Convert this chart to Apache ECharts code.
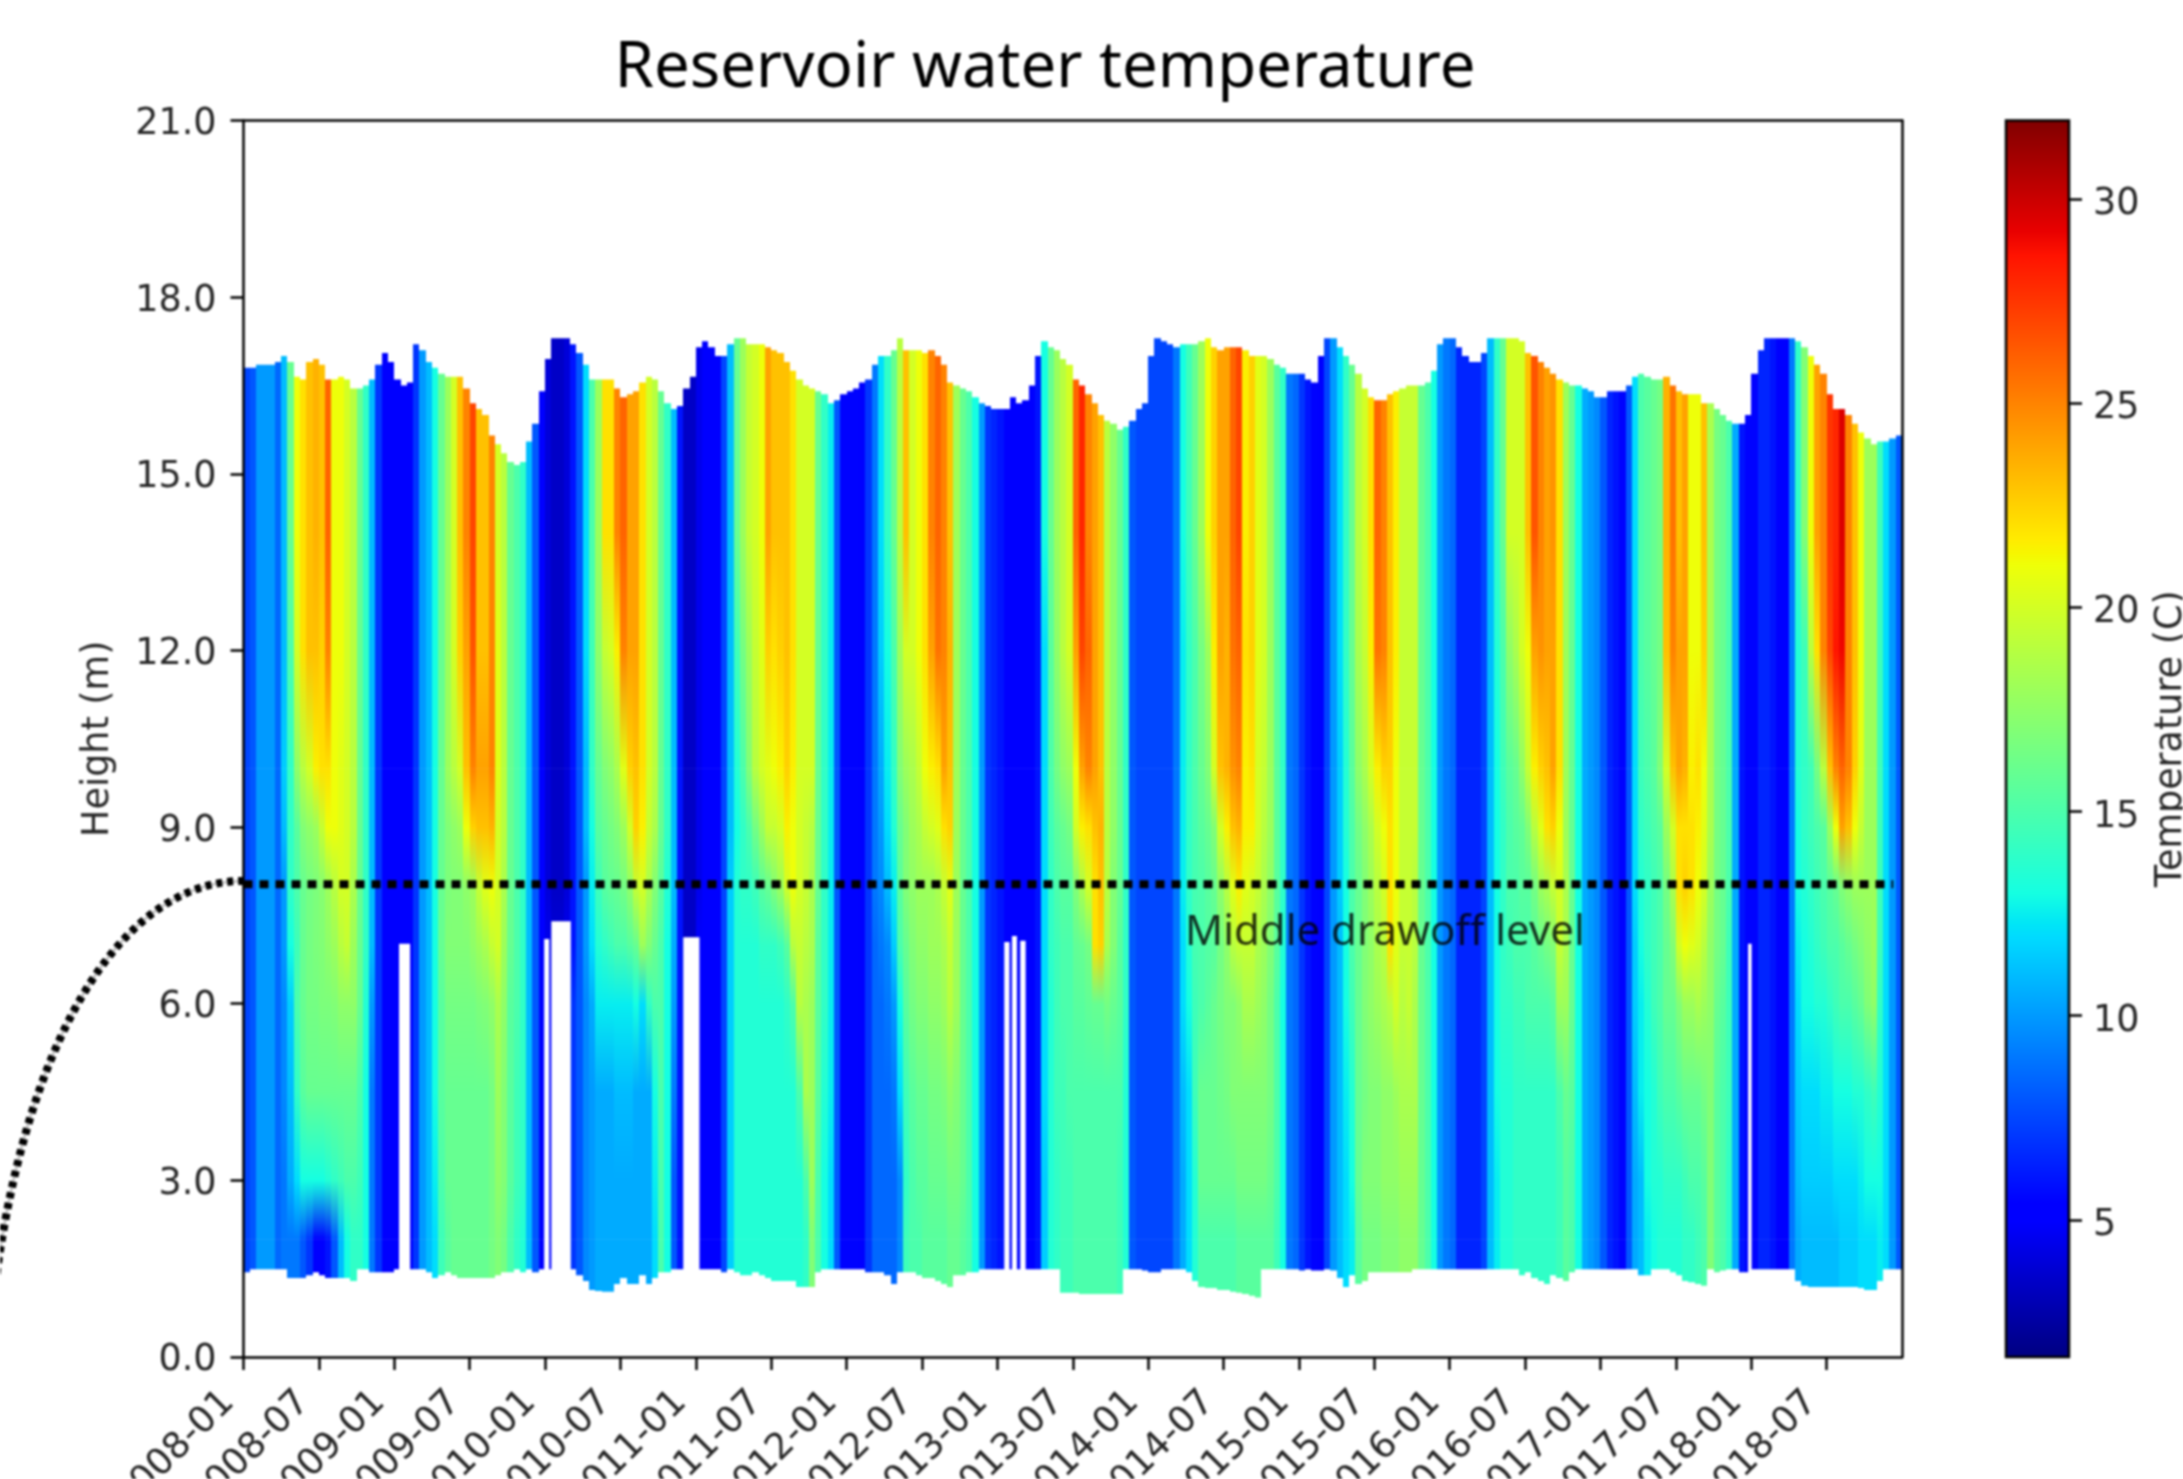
<!DOCTYPE html>
<html><head><meta charset="utf-8">
<style>html,body{margin:0;padding:0;background:#fff;overflow:hidden}#c{width:2183px;height:1479px}#c canvas{filter:blur(0.8px)}</style>
<script src="https://cdn.jsdelivr.net/npm/echarts@6/dist/echarts.min.js"></script>
</head><body><div id="c"></div>
<script>
const tickLabels=['2008-01','2008-07','2009-01','2009-07','2010-01','2010-07','2011-01','2011-07','2012-01','2012-07','2013-01','2013-07','2014-01','2014-07','2015-01','2015-07','2016-01','2016-07','2017-01','2017-07','2018-01','2018-07'];
const tickMonths=[0,6,12,18,24,30,36,42,48,54,60,66,72,78,84,90,96,102,108,114,120,126];
const heights=[14,12,10,9,8,7,6,4.5,3,2];
const colorbarTicks=[5,10,15,20,25,30];
// one value per half month, one line per year
const surface=[
16.8,16.8,16.85,16.85,16.85,16.9,17,16.9,16.65,16.6,16.9,16.95,16.85,16.6,16.6,16.65,16.6,16.45,16.45,16.5,16.6,16.85,17.05,16.9,
16.6,16.5,16.55,17.2,17.1,16.9,16.8,16.7,16.65,16.65,16.65,16.45,16.2,16.1,16,15.65,15.5,15.35,15.2,15.15,15.2,15.55,15.85,16.4,
16.95,17.3,17.3,17.3,17.2,17.05,16.85,16.6,16.6,16.6,16.6,16.45,16.3,16.35,16.4,16.55,16.65,16.6,16.4,16.2,16.1,16.15,16.45,16.65,
17.15,17.25,17.15,17,17,17.2,17.3,17.3,17.2,17.2,17.2,17.15,17.1,17.05,16.9,16.75,16.6,16.5,16.45,16.4,16.35,16.2,16.25,16.35,
16.4,16.45,16.55,16.6,16.85,17,17,17.1,17.3,17.1,17.1,17.1,17.05,17.1,17,16.85,16.55,16.5,16.45,16.4,16.3,16.2,16.15,16.1,
16.1,16.1,16.3,16.2,16.25,16.5,17,17.25,17.15,17.1,16.95,16.85,16.6,16.5,16.35,16.2,16,15.9,15.85,15.75,15.8,15.9,16.1,16.2,
17,17.3,17.25,17.2,17.15,17.2,17.2,17.2,17.25,17.3,17.15,17.1,17.15,17.15,17.15,17.1,17,17,17,16.95,16.85,16.8,16.7,16.7,
16.7,16.6,16.55,17,17.3,17.3,17.15,17,16.85,16.7,16.45,16.3,16.25,16.25,16.35,16.4,16.45,16.5,16.5,16.5,16.55,16.75,17.2,17.3,
17.3,17.15,17,16.9,16.9,17.05,17.3,17.3,17.3,17.3,17.3,17.25,17.05,17,16.9,16.8,16.7,16.6,16.55,16.5,16.5,16.45,16.4,16.3,
16.3,16.4,16.4,16.4,16.5,16.65,16.7,16.65,16.6,16.6,16.65,16.5,16.4,16.35,16.35,16.35,16.2,16.2,16.1,16,15.9,15.85,15.85,16,
16.7,17.1,17.3,17.3,17.3,17.3,17.3,17.25,17.15,17,16.85,16.7,16.35,16.1,16.1,16,15.85,15.7,15.6,15.5,15.55,15.55,15.6,15.65];
const bottom=[
1.45,1.5,1.5,1.5,1.5,1.5,1.5,1.35,1.35,1.35,1.4,1.45,1.4,1.35,1.35,1.35,1.35,1.3,1.5,1.5,1.45,1.45,1.45,1.45,
1.5,1.5,1.5,1.5,1.5,1.45,1.35,1.4,1.45,1.4,1.35,1.35,1.35,1.35,1.35,1.35,1.4,1.45,1.45,1.5,1.45,1.5,1.45,1.5,
1.5,1.5,1.5,1.5,1.5,1.4,1.3,1.15,1.13,1.12,1.12,1.25,1.35,1.25,1.25,1.4,1.25,1.35,1.45,1.45,1.5,1.5,1.5,1.5,
1.5,1.5,1.5,1.5,1.45,1.5,1.45,1.4,1.4,1.45,1.4,1.35,1.3,1.3,1.3,1.3,1.2,1.2,1.2,1.45,1.5,1.5,1.5,1.5,
1.5,1.5,1.5,1.45,1.45,1.45,1.4,1.25,1.45,1.45,1.45,1.4,1.35,1.35,1.3,1.25,1.2,1.4,1.4,1.45,1.45,1.5,1.5,1.5,
1.5,1.5,1.5,1.5,1.5,1.5,1.5,1.5,1.5,1.5,1.1,1.1,1.1,1.08,1.08,1.08,1.08,1.08,1.08,1.08,1.5,1.5,1.5,1.48,
1.45,1.45,1.5,1.5,1.5,1.5,1.45,1.3,1.2,1.18,1.18,1.15,1.15,1.12,1.1,1.08,1.05,1.02,1.5,1.5,1.5,1.5,1.5,1.5,
1.48,1.5,1.48,1.48,1.5,1.48,1.35,1.2,1.4,1.25,1.3,1.45,1.45,1.45,1.45,1.45,1.45,1.45,1.5,1.5,1.5,1.5,1.5,1.5,
1.5,1.5,1.5,1.5,1.5,1.5,1.5,1.5,1.5,1.5,1.5,1.4,1.45,1.35,1.3,1.25,1.4,1.35,1.3,1.45,1.5,1.5,1.5,1.5,
1.5,1.5,1.5,1.5,1.5,1.5,1.4,1.4,1.5,1.5,1.5,1.45,1.4,1.3,1.28,1.25,1.22,1.5,1.45,1.48,1.5,1.5,1.45,1.45,
1.5,1.5,1.5,1.5,1.5,1.5,1.5,1.3,1.22,1.2,1.2,1.2,1.2,1.2,1.2,1.2,1.2,1.18,1.15,1.15,1.3,1.5,1.5,1.5];
const T14=[
7.5,8,10,10,10,8.5,11,16,21,22,23,23.5,23,26,21,21,20,19,16,14,11,7,5,5,
5,5,5,7,10,11,13,16,18,20,23,25,27,23,23,25,20,19,16,15,14,11,8,5,
4,3.5,3.5,4,6,8,12,15,18,22,22,25,26,24,24,22,20,19,16,14,11,6,3.5,3.5,
4.5,5,5,5,7.5,11,16,18,19.5,20,21,24,23,23,23,22,20,20,20,16,14,12.5,8,5.5,
5.5,5.5,5,7,9,12,14,16,19,23,20,21,22,25,26,25,23,18,16,15,13,10,7,6.5,
6,5,5,5,5,5,6,13,16,18,19,20,26,28,25,24,23,19,17.5,16,14,8,7.5,7.5,
7.5,7.5,7.5,7.5,9,13,14.5,16,18,21,22.5,24,24,26,27,21.5,22.5,20.5,20,18,15.5,14,9,8.5,
7,6,5.5,5,7.5,10,12,14,16,19,20,22,26,25,23,21.5,19.5,19.5,19.5,16,15,13,10,9,
8.5,6.5,6.5,6.5,6.5,7.5,11,14,16,20,20,20,23,26.5,25,24,24.5,22,18,16,13,10.5,10,9.5,
8,6.5,6,5.5,8,12,15,15.5,16,16.5,23.5,25.5,23,24,21,21,23,18.5,16.5,16,15,10.5,6,5.5,
5.5,6.5,6.5,6,5,5,9,14,17,21,24,25,27.5,28,29.5,25,23,21,18,18,14.5,12,10,8];
const T12=[
7.5,8,10,10,10,8.5,11,15,20,22,23,23,22.5,25,21,21,20,19,16,14,11,7,5,5,
5,5,5,7,10,11,13,16,18,20,22.5,24,26.5,23,23,25,20.5,19,16,15,14,11,8,5,
4,3.5,3.5,4,6,8,12,14.5,17.5,19.5,20,21.5,25,24,24,22,20,19,16,14,11,6,3.5,3.5,
4.5,5,5,5,7.5,11,14.5,16.5,18,19.5,20.5,22.5,22,22.5,23,22,20,20,20,16,14,12.5,8,5.5,
5.5,5.5,5,7,9,11.5,13,15,18,20,20,21,22,24,25.5,25,23.5,18,16,15,13,10,7,6.5,
6,5,5,5,5,5,6,12,15.5,17.5,19,20,24,27,26,24,23,19,17.5,16,14,8,7.5,7.5,
7.5,7.5,7.5,7.5,9,12.5,14,15,16.5,18,21.5,24,23.5,25.5,26,22,22.5,20.5,20,18,15.5,14,9,8.5,
7,6,5.5,5,7.5,10,12,14,16,18.5,19.5,21.5,25.5,25,23,21.5,19.5,19.5,19.5,16,15,13,10,9,
8.5,6.5,6.5,6.5,6.5,7.5,11,13.5,15,17.5,18.5,20,21,24,24.5,24,24,22,18,16,13,10.5,10,9.5,
8,6.5,6,5.5,8,12,15,15.5,16,16.5,23,25,24,24,21,21,22.5,18.5,16.5,16,15,10.5,6,5.5,
5.5,6.5,6.5,6,5,5,9,13.5,14.5,19,22,25,27,28.5,29,25,23,21,18,18,14.5,12,10,8];
const T10=[
7.5,8,10,10,10,8.5,11.5,14,17.5,19,20,21.5,22,22,21,20.5,20,19,16,14,11,7,5,5,
5,5,5,7,10,11,13,16,18,19,20,23,25,24,24,25,20.5,19,16,15,14,11,8,5,
4,3.5,3.5,4,6,8,11,14,16,17,17.5,18.5,20.5,22.5,23,22,20,19,16,14,11,6,3.5,3.5,
4.5,5,5,5,7.5,11,13.5,15,17,19,20,20.5,21,21.5,22.5,21.5,20,20,20,16,14,12.5,8,5.5,
5.5,5.5,5,7,9,10.5,12.5,14,17,18,18.5,19.5,21,21.5,22,24,23,18,16,15,13,10,7,6.5,
6,5,5,5,5,5,6,12,15,16.5,17.5,18,21,24,25,24,23,19,17.5,16,14,8,7.5,7.5,
7.5,7.5,7.5,7.5,9,12.5,14,15,16,17,20,23,23.5,24.5,25,21.5,22,20,19.5,18,15.5,14,9,8.5,
7,6,5.5,5,7.5,10,11.5,13.5,15.5,17.5,18.5,20,21.5,22.5,22.5,21,19.5,19.5,19.5,16,15,13,10,9,
8.5,6.5,6.5,6.5,6.5,7.5,11,13,14.5,15.5,16,17.5,19.5,21.5,22.5,23,24,22,18,16,13,10.5,10,9.5,
8,6.5,6,5.5,8,12,14.5,15,15.5,17,20,23,24,23.5,21.5,22,21,18.5,16.5,16,15,10.5,6,5.5,
5.5,6.5,6.5,6,5,5,9,13.5,14,14.5,16.5,19,23,25,26,25,22.5,20.5,18,18,14.5,12,10,8];
const T9=[
7.5,8,10,10,10,8.5,11,14,15.5,17,17.5,18,19.5,21,21,20.5,20,19,16,14,11,7,5,5,
5,5,5,7,10,11,13,16,17,17.5,18,21,22.5,23,23,23.5,20,19,16,15,14,11,8,5,
4,3.5,3.5,4,6,8,11,13,15.5,16,16.5,17,18,20,22.5,21.5,19.5,18.5,16,14,11,6,3.5,3.5,
4.5,5,5,5,7.5,11,13,14,15,16.5,18,19.5,19.5,20,21.5,21,20,19.5,19,16,14,12.5,8,5.5,
5.5,5.5,5,7,9,10,12,13.5,16,17,18,18.5,19.5,20,20.5,22,22.5,18,16,15,13,10,7,6.5,
6,5,5,5,5,5,6,12,14.5,15.5,16,16.5,20,21.5,22,23,23.5,19,17.5,16,14,8,7.5,7.5,
7.5,7.5,7.5,7.5,9,12.5,14,14.8,15.5,16,17,20,21.5,23,23.5,21.5,21.5,20,19,18,15.5,14,9,8.5,
7,6,5.5,5,7.5,10,11.5,13.5,15,16.5,17.5,18.5,20,21,22,21,19.5,19.5,19.5,16,15,13,10,9,
8.5,6.5,6.5,6.5,6.5,7.5,11,13,14,15,15.5,15.8,17,19,20.5,22,22.5,21,18,16,13,10.5,10,9.5,
8,6.5,6,5.5,8,12,14,14.5,15,15.5,18,20,22,22,22,21.5,20.5,18.5,16.5,16,15,10.5,6,5.5,
5.5,6.5,6.5,6,5,5,9,13,14,14.5,15,15.5,18,21,24,23,21,19.5,18,18,14.5,12,10,8];
const T8=[
7.5,8,10,10,10,8.5,10,14,15,16,16.5,16.8,17.2,18,19,20,20,18.5,16,14,11,7,5,5,
5,5,5,7,10,11,13,16,16.8,17,17,17.5,18,19.5,20.5,21,20,18.5,16,15,14,11,8,5,
4,3.5,3.5,4,6,8,10,12.5,14.5,15.5,15.8,16,16.5,17.5,19.5,20,18.5,17,15.5,13.5,11,6,3.5,3.5,
4.5,5,5,5,7.5,11.5,13.5,14,14,14.5,15.5,16,17,18,20,21,20,19.5,18.5,16,14,12.5,8,5.5,
5.5,5.5,5,7,9,9.5,11,12.5,15.5,17,17.5,18,18,18,18.5,19.5,20.5,18,16,15,13,10,7,6.5,
6,5,5,5,5,5,6,12,14,15,15.5,15.5,17,18.5,20,22,23,19,17,16,14,8,7.5,7.5,
7.5,7.5,7.5,7.5,9,12.5,14,14.8,15,15.5,16,17.5,19,20.5,21.5,20.5,20,19.5,18.5,17.5,15.5,14,9,8.5,
7,6,5.5,5,7.5,10,11.5,13,15,16,17,18,19,20,22,21,19.5,19.5,19,16,15,13,10,9,
8.5,6.5,6.5,6.5,6.5,7.5,11,13,14,15,15,15.5,15.5,16.5,18,18.5,19.5,20,18.5,16,13,10.5,10,9.5,
8,6.5,6,5.5,8,12,13.5,14,14.5,15,16.5,18.5,22,22.5,22,21,20,18,16.5,16,15,10.5,6,5.5,
5.5,6.5,6.5,6,5,5,9,13,13.5,14,14.5,15,15.5,16,17,17.5,18,18,18,18,14.5,12,10,8];
const T7=[
7.5,8,10,10,10,8.5,10,13,14.5,16,16.5,16.8,17,17.5,18,19,19.5,18,16,14,11,7,5,5,
5,5,5,7,10,11,13,16,17,17,17,17,17.5,18,18.5,19.5,20,18,16,15,14,11,8,5,
4.5,4,4,4.5,6,8,10,12,13.5,14,14.5,15,15,15.5,16,18,17,16,15,13,10.5,6,3.5,3.5,
5,5,5,5,7.5,11.5,13.5,13.5,13.5,13.5,14,14,14,14.5,15.5,19,19.5,19,18.5,15.5,14,12.5,8,5.5,
5.5,5.5,5,7,8.5,9,9.5,11.5,15,16,17,17.5,17.5,18,18,18.5,19.5,18,16,15,13,10,7,6.5,
6,5,5,5,5,5,6,12,14,14.5,15,15,15.8,16,16.5,22,22.5,18.5,17,15.5,14,8,7.5,7.5,
7.5,7.5,7.5,7.5,9,12,13.5,14.8,15,15.3,15.5,16.5,17.5,19,19.5,19.5,19.5,18.5,18,17,15.5,13.5,9,8.5,
7,6,5.5,5,7.5,10,11,13,15,16,17,17.5,18.5,19,22,20.5,19.5,19.5,19,16,15,13,10,9,
8.5,6.5,6.5,6.5,6.5,7.5,11,13,14,14.5,15,15,15,15.5,16,16.5,17,19.5,18.5,16,13,10.5,10,9.5,
8,6.5,6,5.5,8,11.5,13,14,14.5,15,16,17,20,21,20.5,20,19,17.5,16.5,16,14.5,10.5,6,5.5,
5.5,6.5,6.5,6,5,5,9,12.5,13,13.5,14,14.5,15,15,15.5,16,16.5,17,17.5,18,14.5,12,10,8];
const T6=[
7.5,8,10,10,10,8.5,9.5,11.5,15,16,16.5,16.5,16.8,16.8,17,17.5,17.5,17.5,16,13.5,10,7,5,5,
5,5,5,7,10,11,13,15.5,16.5,16.5,16.5,16.5,16.5,16.8,17,17.5,18.5,17.5,15.5,15,14,11,8,5,
5,5,5,5,7,8,9.5,10.5,12.5,12.5,12.5,12.5,12.5,12.5,13,12,14,15,15,13,10,6,4,4.5,
5,5,5,5,7.5,11.5,13.5,13.5,13.5,13.5,13.5,13.5,13.5,13.5,14,15,19,18.5,18,15.5,14,12.5,8,5.5,
5.5,5.5,5,7,8.5,8.5,9,10,13,15.5,16.5,17,17,17.5,17.5,18,19,18,16,15,13,10,7,6.5,
6,5,5,5,5,5,6,12,13.5,14.5,15,15,15.5,15.5,15.8,16,16,16.5,16,15.5,14,8,7.5,7.5,
7.5,7.5,7.5,7.5,9,12,13,14.5,15,15.5,16,16.5,17,17,17.5,18.5,18.5,18,17.5,16.5,15,13,9,8.5,
7,6,5.5,5,7.5,10,11,13,14.5,16,17,17.5,18,18.5,19,20,19,19.5,18.5,16,15,13,10,9,
8.5,6.5,6.5,6.5,6.5,7.5,11,13,14,14,14.5,14.5,15,15,15,15,15.5,18,18,16,13,10.5,10,9.5,
8,6.5,6,5.5,8,11.5,12.5,13.5,14.5,15,16,16,17,18,18,18.5,18,17.5,16,15.5,14.5,10.5,6,5.5,
5.5,6.5,6.5,6,5,5,9,12,13,13,13.5,13.5,14,14.5,15,15,15.5,16,17,17.5,14,12,10,8];
const T45=[
7.5,8,10,10,10,8.5,9.5,11,14,15.5,16,16,16,16,16,16,16,16,15,13,9,7,5,5,
5,5,5,7,10,11,13,15.5,16,16,16,16,16,16,16,16.5,18,17,15.5,14.5,14,11,8,5,
5,5,5,5,7,8,9.5,10,10.5,10.5,10.5,11,11,11,10.5,10.5,10.5,13,15,13,9,6,4.5,4.5,
5,5,5,5,7.5,11.5,13.5,13.5,13.5,13.5,13.5,13.5,13.5,13.5,13.5,13.5,15,18.5,18,15.5,13.5,12.5,8,5.5,
5.5,5.5,5,7,8.5,8.5,8.5,9,12,14.5,15.5,16,16,16.5,16.5,16.8,17.5,17,16,15,13,10,7,6.5,
6,5,5,5,5,5,6,12,13.5,14.5,14.5,15,15,15,15,15,15,15,15,15,13.5,8,7.5,7.5,
7.5,7.5,7.5,7.5,9,11,12,14.5,16,16,16,16.3,16.5,17,17,17,17,17,17,16.5,15,13,9,8.5,
7,6,5.5,5,7.5,10,11,12.5,13.5,16,16.5,17,17,17.5,17.5,18,18.5,18.5,18.5,16,15,13,10,9,
8.5,6.5,6.5,6.5,6.5,7.5,11,13,13.5,13.5,14,14,14,14,14,14,14,15,16,15.5,13,10.5,10,9.5,
8,6.5,6,5.5,8,11,12.5,13,13.5,14.5,15,15,15.5,16,16,16,16.5,17,15.5,15,14.5,10.5,6,5.5,
5.5,6.5,6.5,6,5,5,9,11.5,12,12,12,12.5,12.5,13,13,13,13.5,13.5,14,14.5,13.5,12,10,8];
const T3=[
7.5,8,10,10,10,8.5,9,10.5,12,13,13,13,13,13.5,14,14.5,15,15,14.5,13,9,7,5,5,
5,5,5,7,10,11,12.5,15,16,16,16,16,16,16,16,16.5,17.5,17,15.5,14.5,14,11,8,5,
5,5,5,5,7,8,9.5,10,10.5,10.5,10.5,10.5,10.5,10.5,10.5,10.5,10.5,12.5,15,13,8,6,4.5,4.5,
5,5,5,5,7.5,11.5,13.5,13.5,13.5,13.5,13.5,13.5,13.5,13.5,13.5,13.5,13.5,15,18,15,13,12,8,5.5,
5.5,5.5,5,7,8.5,8.5,8.5,8.5,9.5,14,15,15.5,15.5,16,16,16,16.5,16.5,16,15,13,10,7,6.5,
6,5,5,5,5,5,6,11.5,13.5,14,14.5,14.5,15,15,15,15,15,15,15,14.5,13.5,8,7.5,7.5,
7.5,7.5,7.5,7.5,9,10.5,12,13.5,16,16,16,16,16,16,16.5,16.5,16.5,16.5,16.5,16,15,13,9,8.5,
7,6,5.5,5,7.5,10,11,12,13,16,17,17,17,17.5,17.5,17.5,18,18,18,16,15,13,10,9,
8.5,6.5,6.5,6.5,6.5,7.5,11,12.5,13.5,13.5,14,14,14,14,14,14,14,14.5,15.5,15,13,10.5,10,9.5,
8,6.5,6,5.5,8,10.5,11,13,13.5,13.5,14,14,14,14.5,15,15,15.5,17,15.5,15,14,10.5,6,5.5,
5.5,6.5,6.5,6,5,5,9,11,11.5,11.5,11.5,11.5,11.5,12,12,12,12,12.5,13,13,13,12,10,8];
const T2=[
7.5,8,10,10,10,8.5,9,9,9,8,7,5,5,6,8,11,13,14,14,13,9,7,5,5,
5,5,5,7,10,11,12,14.5,15.5,16,16,16,16,16,16,16.5,17,16.5,15,14,13.5,11,8,5,
5,5,5,5,7,8,9.5,10,10.5,10.5,10.5,10.5,10.5,10.5,10.5,10.5,10.5,12,15,13,8,6,4.5,4.5,
5,5,5,5,7.5,11.5,13.5,13.5,13.5,13.5,13.5,13.5,13.5,13.5,13.5,13.5,13.5,14,17,15,13,12,8,5.5,
5.5,5.5,5,7,8.5,8.5,8.5,8.5,9.5,14.5,15,15,15.5,15.5,15.5,15.5,16,16,15.5,15,13,10,7,6.5,
6,5,5,5,5,5,6,11.5,13.5,14,14.5,14.5,15,15,15,15,15,15,15,14.5,13.5,8,7.5,7.5,
7.5,7.5,7.5,7.5,9,10.5,12,13.5,15,15,15,15,15,15,15.5,15.5,15.5,15.5,15.5,15.5,14.5,13,9,8.5,
7,6,5.5,5,7.5,10,11,12,12.5,15.5,16.5,16.5,16.5,17,17,17,17.5,17.5,17.5,16,15,13,10,9,
8.5,6.5,6.5,6.5,6.5,7.5,11,12.5,13.5,13.5,14,14,14,14,14,14,14,14.5,15.5,15,13,10.5,10,9.5,
8,6.5,6,5.5,8,10.5,11,12.5,13,13.5,13.5,13.5,13.5,14,14,14.5,15,17,15.5,15,14,10.5,6,5.5,
5.5,6.5,6.5,6,5,5,9,10.5,11,11,11,11,11,11,11.5,11.5,11.5,12,12,12,12.5,12,10,8];
const levels=[T14,T12,T10,T9,T8,T7,T6,T45,T3,T2];
// white data gaps: start month, end month, top height
const gapStart=[12.38,23.93,24.5,35,60.55,61.16,61.82,119.75];
const gapEnd=[13.26,24.33,26.05,36.29,60.97,61.56,62.25,120.03];
const gapTop=[7.02,7.1,7.4,7.13,7.05,7.15,7.07,7.02];
const drawoffLine=[[0,8.03],[131.3,8.03]];
const drawoffLabel=[[74.9,7.2]];

const cmin=1.64,cmax=31.93;
const R=[[0,0],[.35,0],[.66,1],[.89,1],[1,.5]];
const G=[[0,0],[.125,0],[.375,1],[.64,1],[.91,0],[1,0]];
const B=[[0,.5],[.11,1],[.34,1],[.65,0],[1,0]];
function chan(tb,t){for(let i=1;i<tb.length;i++){if(t<=tb[i][0]){const a=tb[i-1],b=tb[i];return a[1]+(b[1]-a[1])*(t-a[0])/(b[0]-a[0]);}}return tb[tb.length-1][1];}
function jetT(t){t=Math.max(0,Math.min(1,t));return 'rgb('+Math.round(chan(R,t)*255)+','+Math.round(chan(G,t)*255)+','+Math.round(chan(B,t)*255)+')';}
function jet(v){return jetT((v-cmin)/(cmax-cmin));}

const cells=[];
for(let i=0;i<surface.length;i++){
  const x0=i/2,x1=(i+1)/2;
  cells.push([x0,x1,surface[i],heights[0],T14[i],T14[i]]);
  for(let k=0;k+1<heights.length;k++)cells.push([x0,x1,heights[k],heights[k+1],levels[k][i],levels[k+1][i]]);
  cells.push([x0,x1,heights[heights.length-1],bottom[i],T2[i],T2[i]]);
}
const gapData=gapStart.map((s,i)=>[s,gapEnd[i],gapTop[i],0.9]);

const font='"DejaVu Sans"';const fs=36.5;const dark='#262626';
const chart=echarts.init(document.getElementById('c'));
const stops=[0,.11,.125,.34,.35,.375,.64,.65,.66,.89,.91,1].map(t=>({offset:t,color:jetT(t)}));
chart.setOption({
animation:false,backgroundColor:'#fff',
title:{text:'Reservoir water temperature',left:1040,top:32,textAlign:'center',textStyle:{fontFamily:'"Noto Sans"',fontSize:63.5,fontWeight:'normal',color:'#000'}},
grid:[{left:243.5,right:281,top:120.5,bottom:122,outerBoundsMode:'none'},{left:2006,right:114,top:120.5,bottom:122,outerBoundsMode:'none'}],
xAxis:[
{type:'value',gridIndex:0,min:0,max:132,position:'bottom',z:5,splitLine:{show:false},
 axisLine:{onZero:false,lineStyle:{color:'#000',width:2.5}},
 axisTick:{length:13,customValues:tickMonths,lineStyle:{color:'#000',width:2.5}},
 axisLabel:{customValues:tickMonths,rotate:45,margin:25,padding:[0,21,0,0],fontFamily:font,fontSize:fs,color:dark,formatter:v=>tickLabels[tickMonths.indexOf(v)]||''}},
{type:'value',gridIndex:0,min:0,max:132,position:'top',z:5,splitLine:{show:false},axisLine:{onZero:false,lineStyle:{color:'#000',width:2.5}},axisTick:{show:false},axisLabel:{show:false}},
{type:'value',gridIndex:1,min:0,max:1,show:false}],
yAxis:[
{type:'value',gridIndex:0,min:0,max:21,interval:3,position:'left',z:5,name:'Height (m)',nameLocation:'middle',nameGap:126,nameTextStyle:{fontFamily:font,fontSize:fs,color:dark},splitLine:{show:false},
 axisLine:{onZero:false,lineStyle:{color:'#000',width:2.5}},axisTick:{length:13,lineStyle:{color:'#000',width:2.5}},
 axisLabel:{margin:27,verticalAlign:'top',lineHeight:8,fontFamily:font,fontSize:fs,color:dark,formatter:v=>v.toFixed(1)}},
{type:'value',gridIndex:0,min:0,max:21,position:'right',z:5,splitLine:{show:false},axisLine:{onZero:false,lineStyle:{color:'#000',width:2.5}},axisTick:{show:false},axisLabel:{show:false}},
{type:'value',gridIndex:1,min:cmin,max:cmax,position:'right',z:5,name:'Temperature (C)',nameLocation:'middle',nameGap:84,nameRotate:90,nameTextStyle:{fontFamily:font,fontSize:fs,color:dark},splitLine:{show:false},
 axisLine:{show:false,onZero:false},axisTick:{length:13,customValues:colorbarTicks,lineStyle:{color:'#000',width:2.5}},
 axisLabel:{customValues:colorbarTicks,margin:24,verticalAlign:'top',lineHeight:11,fontFamily:font,fontSize:fs,color:dark}}],
series:[
{type:'custom',name:'Temperature',xAxisIndex:0,yAxisIndex:0,silent:true,clip:true,z:2,data:cells,encode:{x:[0,1],y:[2,3]},
 renderItem:(p,api)=>{
  const a=api.coord([api.value(0),api.value(2)]),b=api.coord([api.value(1),api.value(3)]);
  const x=Math.round(a[0]),w=Math.round(b[0])-x;
  const ta=api.value(4),tb=api.value(5);
  return {type:'rect',shape:{x:x,y:a[1],width:w,height:b[1]-a[1]+0.6},
   style:{fill:ta===tb?jet(ta):new echarts.graphic.LinearGradient(0,0,0,1,[{offset:0,color:jet(ta)},{offset:1,color:jet(tb)}])}};
 }},
{type:'custom',name:'No data',xAxisIndex:0,yAxisIndex:0,silent:true,z:3,data:gapData,encode:{x:[0,1],y:[2,3]},
 renderItem:(p,api)=>{
  const a=api.coord([api.value(0),api.value(2)]),b=api.coord([api.value(1),api.value(3)]);
  return {type:'rect',shape:{x:a[0],y:a[1],width:b[0]-a[0],height:b[1]-a[1]},style:{fill:'#fff'}};
 }},
{type:'line',name:'Middle drawoff level',xAxisIndex:0,yAxisIndex:0,silent:true,z:4,symbol:'none',data:drawoffLine,lineStyle:{color:'#000',width:8,type:[9,7]}},
{type:'scatter',xAxisIndex:0,yAxisIndex:0,silent:true,z:6,symbolSize:1,itemStyle:{color:'transparent'},data:drawoffLabel,
 label:{show:true,position:'right',distance:0,formatter:'Middle drawoff level',fontFamily:'"Noto Sans"',fontSize:42,color:'#000'}},
{type:'custom',name:'Colorbar',xAxisIndex:2,yAxisIndex:2,silent:true,z:2,data:[[0,1,cmax,cmin]],encode:{x:[0,1],y:[2,3]},
 renderItem:(p,api)=>{
  const a=api.coord([api.value(0),api.value(2)]),b=api.coord([api.value(1),api.value(3)]);
  return {type:'rect',shape:{x:a[0],y:a[1],width:b[0]-a[0],height:b[1]-a[1]},
   style:{fill:new echarts.graphic.LinearGradient(0,1,0,0,stops),stroke:'#000',lineWidth:2.5}};
 }}
],
graphic:[
{type:'bezierCurve',silent:true,z:10,shape:{x1:-5,y1:1285,x2:243,y2:881,cpx1:30,cpy1:1020,cpx2:130,cpy2:881},style:{fill:'none',stroke:'#c8c8c8',lineWidth:3}},
{type:'bezierCurve',silent:true,z:11,shape:{x1:-5,y1:1285,x2:243,y2:881,cpx1:30,cpy1:1020,cpx2:130,cpy2:881},style:{fill:'none',stroke:'#000',lineWidth:8,lineDash:[6,5]}}
]
});
</script></body></html>
